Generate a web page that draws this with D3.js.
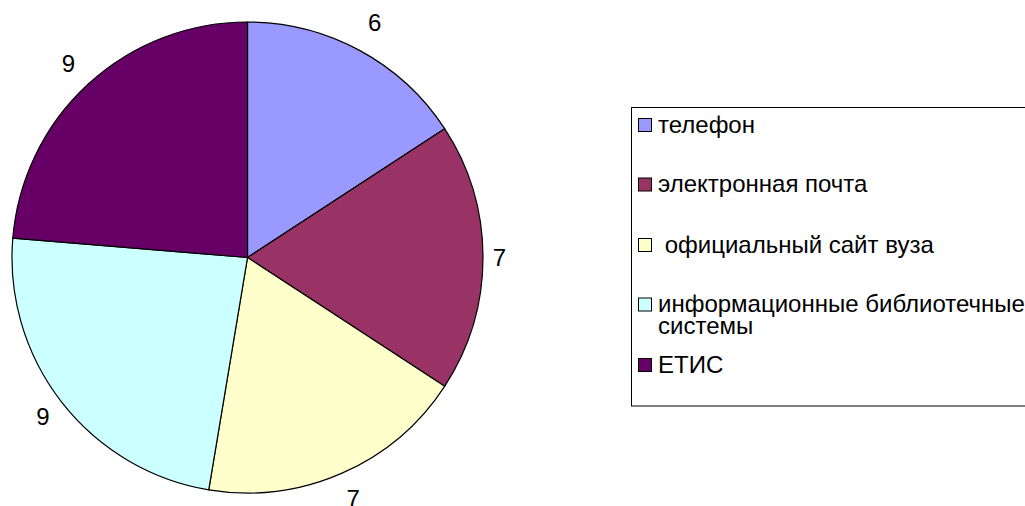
<!DOCTYPE html>
<html><head><meta charset="utf-8">
<script src="https://cdn.jsdelivr.net/npm/d3@7"></script>
<style>body{margin:0;background:#fff;overflow:hidden}svg{display:block}text{font-family:"Liberation Sans",Arial,sans-serif}</style>
</head><body>
<svg id="chart" width="1025" height="506"></svg>
<script>
const categories = ["телефон", "электронная почта", " официальный сайт вуза", "информационные библиотечные|системы", "ЕТИС"];
const values = [6, 7, 7, 9, 9];
const colors = ["#9999FF", "#993366", "#FFFFCC", "#CCFFFF", "#660066"];

const svg = d3.select("#chart");
const cx = 247.5, cy = 257.5, r = 235.5;
const g = svg.append("g").attr("transform", `translate(${cx},${cy})`);
const pie = d3.pie().sort(null).value(d => d)(values);
const arc = d3.arc().innerRadius(0).outerRadius(r);

g.selectAll("path").data(pie).join("path")
  .attr("d", arc).attr("fill", (d, i) => colors[i])
  .attr("stroke", "#000").attr("stroke-width", 1.2).attr("stroke-linejoin", "round");

function labelPos(d) {
  const a = (d.startAngle + d.endAngle) / 2;
  const c = Math.cos(a);
  const R = r + 16.5 + (c > 0 ? 17 : 12) * Math.abs(c);
  return [Math.sin(a) * R, -c * R];
}
g.selectAll("text.lbl").data(pie).join("text").attr("class", "lbl")
  .attr("transform", d => `translate(${labelPos(d)})`)
  .attr("text-anchor", "middle").attr("dy", "0.36em")
  .attr("font-size", 24).attr("fill", "#000").text(d => d.data);

// legend
const lx = 631.5, ly = 107.5, lw = 420, lh = 298.5;
svg.append("rect").attr("x", lx).attr("y", ly).attr("width", lw).attr("height", lh)
  .attr("fill", "#fff").attr("stroke", "#000").attr("stroke-width", 1);
const rowBase = [132.5, 192, 252.5, 312, 372.5];
const lg = svg.append("g");
categories.forEach((c, i) => {
  lg.append("rect").attr("x", 638.5).attr("y", rowBase[i] - 14).attr("width", 13).attr("height", 13)
    .attr("fill", colors[i]).attr("stroke", "#000").attr("stroke-width", 1);
  const lines = c.split("|");
  lines.forEach((t, j) => {
    lg.append("text").attr("x", 658).attr("y", rowBase[i] + j * 22)
      .attr("font-size", 24).attr("fill", "#000")
      .attr("xml:space", "preserve").style("white-space", "pre").text(t);
  });
});
</script>
</body></html>
